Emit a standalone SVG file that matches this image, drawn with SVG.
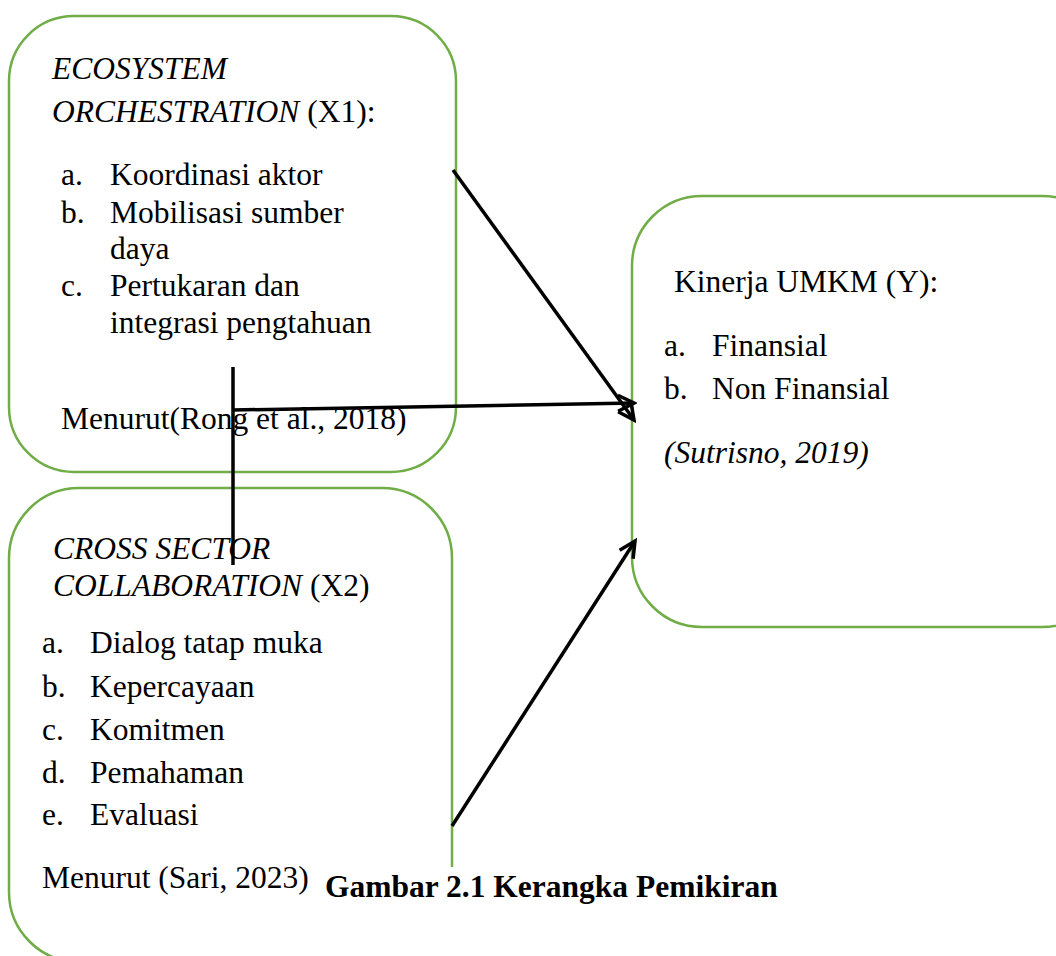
<svg xmlns="http://www.w3.org/2000/svg" width="1056" height="956" viewBox="0 0 1056 956">
<style>
.box{fill:#fff;stroke:#70AD47;stroke-width:2.5}
.t{font-family:"Liberation Serif","Times New Roman",serif;font-size:31.5px;fill:#000}
.i{font-style:italic}
.b{font-weight:bold}
.c{stroke:#000;stroke-width:3.5;fill:none}
</style>
<defs>
<marker id="arr" markerWidth="20" markerHeight="20" refX="17" refY="10" orient="auto" markerUnits="userSpaceOnUse" viewBox="0 0 20 20">
<path d="M1,2 L17,10 L1,18" fill="none" stroke="#000" stroke-width="3.5"/>
</marker>
</defs>
<rect width="1056" height="956" fill="#fff"/>
<g id="x1">
<rect class="box" x="9" y="16" width="447" height="456" rx="65" ry="65"/>
<text class="t" x="52" y="79"><tspan class="i">ECOSYSTEM</tspan></text>
<text class="t" x="52" y="122"><tspan class="i">ORCHESTRATION</tspan> (X1):</text>
<text class="t" x="61" y="185">a.</text><text class="t" x="110" y="185">Koordinasi aktor</text>
<text class="t" x="61" y="223">b.</text><text class="t" x="110" y="223">Mobilisasi sumber</text>
<text class="t" x="110" y="259">daya</text>
<text class="t" x="61" y="296">c.</text><text class="t" x="110" y="296">Pertukaran dan</text>
<text class="t" x="110" y="333">integrasi pengtahuan</text>
<text class="t" x="61" y="429">Menurut(Rong et al., 2018)</text>
</g>
<g id="x2">
<rect class="box" x="9" y="488" width="443" height="474" rx="70" ry="70"/>
<text class="t" x="53" y="559"><tspan class="i">CROSS SECTOR</tspan></text>
<text class="t" x="53" y="596"><tspan class="i">COLLABORATION</tspan> (X2)</text>
<text class="t" x="42" y="653">a.</text><text class="t" x="90" y="653">Dialog tatap muka</text>
<text class="t" x="42" y="697">b.</text><text class="t" x="90" y="697">Kepercayaan</text>
<text class="t" x="42" y="740">c.</text><text class="t" x="90" y="740">Komitmen</text>
<text class="t" x="42" y="783">d.</text><text class="t" x="90" y="783">Pemahaman</text>
<text class="t" x="42" y="825">e.</text><text class="t" x="90" y="825">Evaluasi</text>
<text class="t" x="42" y="888">Menurut (Sari, 2023)</text>
</g>
<g id="y">
<rect class="box" x="632" y="196" width="480" height="431" rx="70" ry="70"/>
<text class="t" x="674" y="292">Kinerja UMKM (Y):</text>
<text class="t" x="664" y="356">a.</text><text class="t" x="712" y="356">Finansial</text>
<text class="t" x="664" y="399">b.</text><text class="t" x="712" y="399">Non Finansial</text>
<text class="t i" x="664" y="463">(Sutrisno, 2019)</text>
</g>
<g id="connectors">
<line class="c" x1="453" y1="170" x2="634" y2="420" marker-end="url(#arr)"/>
<line class="c" x1="233" y1="410" x2="634" y2="403" marker-end="url(#arr)"/>
<line class="c" x1="233" y1="367" x2="233" y2="565"/>
<line class="c" x1="452" y1="826" x2="635" y2="541" marker-end="url(#arr)"/>
</g>
<g id="caption">
<rect x="318" y="867" width="480" height="89" fill="#fff"/>
<text class="t b" x="325" y="897">Gambar 2.1 Kerangka Pemikiran</text>
</g>
</svg>
